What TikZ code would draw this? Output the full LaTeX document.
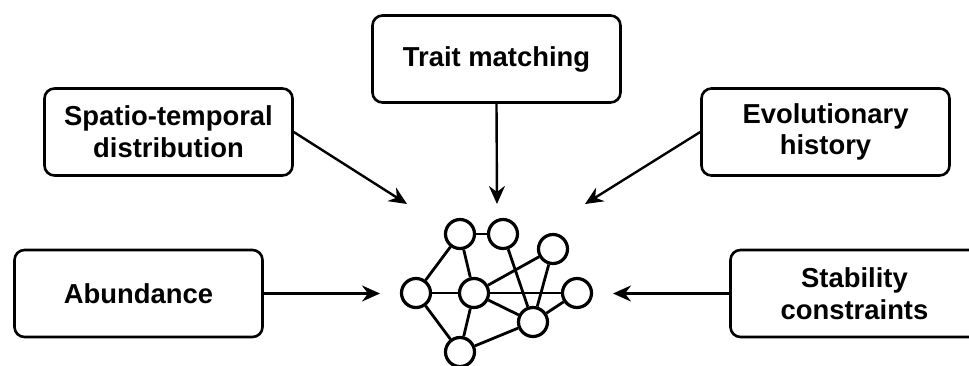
\documentclass[tikz,border=0pt]{standalone}
\usepackage{fontspec}
\setmainfont{Liberation Sans}
\usetikzlibrary{arrows.meta}

\begin{document}
\begin{tikzpicture}[x=0.5pt,y=-0.5pt]
        \useasboundingbox (0,0) rectangle (969,365);

        % factor boxes
        \begin{scope}[every node/.style={draw, rounded corners=5pt, line width=1.3pt,
            minimum width=124pt, minimum height=43.5pt, align=center,
            font=\fontsize{13.7}{15.8}\selectfont\bfseries}]
          \node (trait)   at (496.5,59)  {Trait matching};
          \node (spatio)  at (168.5,132) {Spatio-temporal\\distribution};
          \node (evol)    at (825.5,132) {Evolutionary\\history};
          \node (abund)   at (138.5,293.5) {Abundance};
          \node (stab)    at (854.5,293.5) {Stability\\constraints};
        \end{scope}

        % network
        \begin{scope}[every node/.style={circle, draw, line width=1.6pt, minimum size=14.5pt, inner sep=0pt}]
          \node (1) at (460,234)   {};
          \node (2) at (503,234)   {};
          \node (3) at (553,249)   {};
          \node (4) at (416,293)   {};
          \node (5) at (474,293)   {};
          \node (6) at (577,293)   {};
          \node (7) at (533,322)   {};
          \node (8) at (460,352)   {};
        \end{scope}

        \begin{scope}[every edge/.style={draw, line width=1.4pt}]
          \path (1) edge (2);
          \path (1) edge (4);
          \path (1) edge (5);
          \path (4) edge (5);
          \path (5) edge (6);
          \path (5) edge (3);
          \path (2) edge (7);
          \path (3) edge (7);
          \path (6) edge (7);
          \path (5) edge (7);
          \path (4) edge (8);
          \path (5) edge (8);
          \path (8) edge (7);
        \end{scope}

        % arrows into the network
        \coordinate (ttrait)  at (497,204);
        \coordinate (tspatio) at (407,204);
        \coordinate (tevol)   at (585,204);
        \coordinate (tabund)  at (380,293.5);
        \coordinate (tstab)   at (613,293.5);

        \begin{scope}[every edge/.style={draw, line width=1.2pt, -{Stealth[length=9pt,width=8pt,inset=3pt]}}]
          \path (trait.south)  edge (ttrait);
          \path (spatio.east)  edge (tspatio);
          \path (evol.west)    edge (tevol);
          \path (abund.east)   edge (tabund);
          \path (stab.west)    edge (tstab);
        \end{scope}

      \end{tikzpicture}
\end{document}
